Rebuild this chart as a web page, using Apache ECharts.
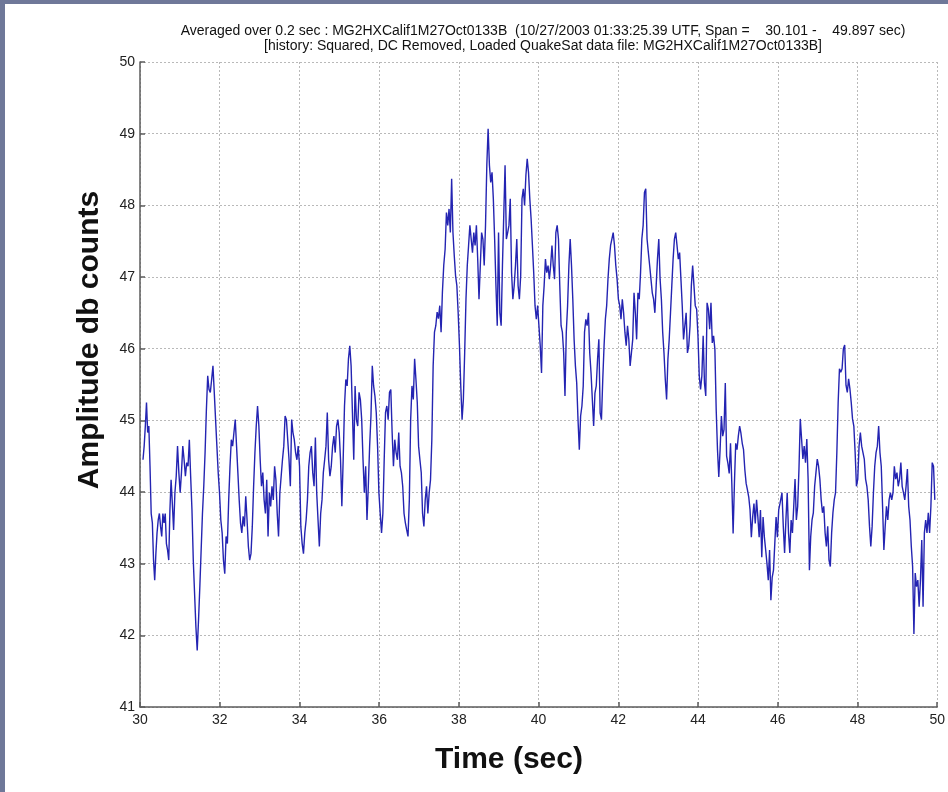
<!DOCTYPE html>
<html>
<head>
<meta charset="utf-8">
<title>QuakeSat amplitude</title>
<script src="https://cdn.jsdelivr.net/npm/echarts@6/dist/echarts.min.js"></script>
<style>
  html, body { margin: 0; padding: 0; width: 948px; height: 792px; background: #6f7899; overflow: hidden; }
  #chart { position: absolute; left: 5px; top: 4px; width: 943px; height: 788px; background: #fff; }
</style>
</head>
<body>
<div id="chart"></div>
<script>
// amplitude (db counts), one array per stretch of time
const segA1 = [44.45, 44.64, 44.92, 45.25, 44.83, 44.92, 44.36, 43.7, 43.57, 43.05, 42.77, 43.14, 43.43, 43.61, 43.7, 43.52, 43.38, 43.7, 43.57, 43.7, 43.28, 43.19, 43.05, 43.75, 44.17]
const segA2 = [43.85, 43.47, 43.99, 44.22, 44.64, 44.27, 43.99, 44.27, 44.64, 44.45, 44.22, 44.41, 44.36, 44.73, 44.22, 43.75, 43.05, 42.58, 42.12, 41.79, 42.21, 42.68, 43.19, 43.7, 44.08, 44.55, 45.15, 45.62, 45.43, 45.39, 45.57, 45.76, 45.39, 45.01, 44.64, 44.27, 43.99, 43.61, 43.43, 43.05, 42.86, 43.38, 43.28, 43.89, 44.36, 44.73, 44.64, 44.83, 45.01, 44.64, 44.27, 43.89, 43.57, 43.43, 43.66, 43.52, 43.94, 43.61, 43.24, 43.05, 43.14, 43.52, 44.08, 44.55, 44.92, 45.2, 44.92, 44.45, 44.08, 44.27, 43.89, 43.7, 44.17, 43.38, 43.99, 43.8, 44.08, 43.89, 44.36, 44.17, 43.7, 43.38, 43.99, 44.22, 44.45, 44.64, 45.06, 45.01, 44.73, 44.45, 44.08, 45.01, 44.83, 44.73, 44.55, 44.45, 44.64, 44.36, 43.52]
const segB = [43.28, 43.14, 43.43, 43.61, 43.89, 44.36, 44.55, 44.64, 44.27, 44.08, 44.76, 43.99, 43.61, 43.24, 43.7, 43.89, 44.27, 44.45, 44.64, 45.11, 44.45, 44.22, 44.36, 44.64, 44.78, 44.55, 44.92, 45.01, 44.83, 44.45, 43.8, 44.45, 45.2, 45.57, 45.48, 45.86, 46.04, 45.76, 45.11, 44.45, 45.48, 45.01, 44.92, 45.39, 45.29, 45.01, 44.45, 43.99, 44.36, 43.61, 44.08, 44.64, 45.06, 45.76, 45.48, 45.34, 45.11, 44.64, 43.99, 43.7, 43.43, 43.7, 44.45, 45.11, 45.2, 45.01, 45.39, 45.43, 44.83, 44.36, 44.73, 44.55, 44.45, 44.83, 44.36, 44.27, 44.08, 43.7, 43.57, 43.47, 43.38, 43.89, 45.01, 45.48, 45.29, 45.86, 45.57, 45.25, 44.64, 44.45, 44.27, 43.7, 43.52, 43.89, 44.08, 43.7, 43.99, 44.17, 44.73, 45.76, 46.23, 46.32, 46.51, 46.42, 46.6, 46.23, 46.79, 47.16]
const segC = [47.39, 47.9, 47.72, 47.95, 47.62, 48.37, 47.62, 47.3, 47.02, 46.88, 46.5, 46.04, 45.48, 45.01, 45.29, 45.94, 46.69, 47.16, 47.44, 47.72, 47.53, 47.34, 47.62, 47.44, 47.72, 47.25, 46.69, 47.16, 47.62, 47.53, 47.16, 47.72, 48.56, 49.07, 48.56, 48.32, 48.46, 48.09, 47.53, 46.88, 46.32, 47.62, 46.5, 46.32, 47.16, 47.86, 48.56, 47.53, 47.62, 47.72, 48.09, 47.06, 46.69, 46.88, 47.16, 47.53, 46.88, 46.69, 47.02, 48.09, 48.23, 48.0, 48.42, 48.65, 48.46, 48.09, 47.81, 47.44, 47.06, 46.6, 46.41, 46.6, 46.32, 46.04, 45.66, 46.6, 46.88, 47.25, 47.06, 47.16, 46.97, 47.16, 47.44, 47.16, 46.97, 47.62, 47.72, 47.53, 46.88, 46.32, 46.23, 45.94, 45.34, 46.23, 46.6, 47.16, 47.53, 47.16, 46.69, 46.13, 45.76, 45.52, 45.01, 44.59, 45.06, 45.2, 45.48, 46.23, 46.41, 46.32, 46.5, 45.94, 45.66, 45.29, 44.92, 45.38, 45.48, 45.85, 46.13, 45.1, 45.01, 45.57, 46.04, 46.41, 46.6, 46.97, 47.25, 47.44, 47.53, 47.62, 47.44, 47.16, 46.97, 46.69, 46.6, 46.41, 46.69, 46.5, 46.23, 46.04, 46.32, 46.13, 45.76, 45.94, 46.13, 46.78, 46.5, 46.13, 46.78, 46.69, 47.06, 47.53, 47.72, 48.18, 48.23, 47.53, 47.34, 47.16, 46.97, 46.78, 46.69, 46.5, 46.88, 47.25, 47.53, 46.97, 46.69, 46.23, 45.94, 45.57, 45.29, 45.85, 46.13, 46.5, 46.88, 47.25, 47.53, 47.62, 47.44, 47.25, 47.34, 46.97, 46.6, 46.13, 46.32, 46.5, 45.94, 46.04, 46.32, 46.88, 47.16, 46.88, 46.6]
const segD = [46.55, 46.18, 45.62, 45.43, 45.62, 46.18, 45.52, 45.34, 46.64, 46.55, 46.27, 46.64, 46.08, 46.18, 45.99, 45.15, 44.59, 44.21, 44.59, 45.06, 44.78, 44.87, 45.52, 44.5, 44.4, 44.26, 44.68, 44.12, 43.42, 44.12, 44.68, 44.59, 44.78, 44.92, 44.82, 44.68, 44.59, 44.31, 44.12, 44.03, 43.93, 43.75, 43.37, 43.65, 43.84, 43.56, 43.89, 43.65, 43.37, 43.75, 43.09, 43.65, 43.37, 43.19, 43.0, 42.77, 43.19, 42.49, 42.81, 42.91, 43.28, 43.65, 43.37, 43.75, 43.84]
const segE = [43.89, 43.99, 43.52, 43.15, 43.61, 43.99, 43.43, 43.15, 43.61, 43.43, 43.8, 44.18, 43.61, 43.8, 44.32, 45.02, 44.74, 44.46, 44.64, 44.41, 44.74, 44.18, 42.91, 43.38, 43.61, 43.71, 44.08, 44.27, 44.46, 44.36, 44.18, 43.89, 43.71, 43.8, 43.43, 43.24, 43.52, 43.05, 42.96, 43.43, 43.71, 43.89, 43.99, 44.55, 45.25, 45.72, 45.67, 45.72, 46.0, 46.05, 45.49, 45.39, 45.58, 45.44, 45.25, 45.02, 44.92, 44.55, 44.08, 44.18, 44.64, 44.83, 44.64, 44.55, 44.46, 44.18, 44.08, 43.89, 43.52, 43.24, 43.52, 43.99, 44.36, 44.55, 44.64, 44.92, 44.55, 44.36, 43.8, 43.19, 43.52, 43.8, 43.61, 43.89, 43.99, 43.89, 43.99, 44.36, 44.18, 44.27, 44.08, 44.18, 44.41, 44.08, 43.99, 43.89, 44.08, 44.32, 43.8, 43.61, 43.24, 42.96, 42.02, 42.87, 42.68, 42.77, 42.4, 42.77, 43.33, 42.4, 43.43, 43.61, 43.43, 43.71, 43.43, 43.8, 44.41, 44.36, 43.89]

// time span (sec) covered by each stretch, samples evenly spaced inside it
const segStart = [30.075, 30.81, 34.068, 37.655, 43.965, 46.073]
const segEnd = [30.78, 34.035, 37.62, 43.93, 46.056, 49.94]

const xTicks = [30, 50, 2]   // min, max, step
const yTicks = [41, 50, 1]

const titleLines = [
  'Averaged over 0.2 sec : MG2HXCalif1M27Oct0133B  (10/27/2003 01:33:25.39 UTF, Span =    30.101 -    49.897 sec)',
  '[history: Squared, DC Removed, Loaded QuakeSat data file: MG2HXCalif1M27Oct0133B]'
]
const xName = 'Time (sec)'
const yName = 'Amplitude db counts'

const FONT = '"Liberation Sans", Arial, sans-serif'

function buildPoints() {
  const segs = [segA1, segA2, segB, segC, segD, segE]
  const pts = []
  segs.forEach((vals, k) => {
    const n = vals.length
    vals.forEach((v, i) => {
      pts.push([segStart[k] + (segEnd[k] - segStart[k]) * i / (n - 1), v])
    })
  })
  return pts
}

const gridLine = { show: true, lineStyle: { color: '#b9b9b9', width: 1, type: [2, 2] } }
const axisLine = { show: true, lineStyle: { color: '#5c5c5c', width: 1.5 } }
const axisTick = { show: true, inside: true, length: 5, lineStyle: { color: '#5c5c5c', width: 1.5 } }
const axisLabel = { color: '#222', fontSize: 14, fontFamily: FONT }

function textEl(text, x, y, font, rotation) {
  return {
    type: 'text',
    x, y,
    rotation: rotation || 0,
    style: {
      text, font, fill: '#111',
      align: 'center', verticalAlign: 'middle',
      textAlign: 'center', textVerticalAlign: 'middle'
    }
  }
}

const chart = echarts.init(document.getElementById('chart'))
chart.setOption({
  animation: false,
  backgroundColor: '#fff',
  grid: { left: 135, right: 4, top: 58, bottom: 85, containLabel: false },
  xAxis: {
    type: 'value',
    min: xTicks[0], max: xTicks[1], interval: xTicks[2],
    axisLine, axisTick, splitLine: gridLine,
    axisLabel: { ...axisLabel, margin: 6 }
  },
  yAxis: {
    type: 'value',
    min: yTicks[0], max: yTicks[1], interval: yTicks[2],
    axisLine, axisTick, splitLine: gridLine,
    axisLabel: { ...axisLabel, margin: 5 }
  },
  graphic: [
    textEl(titleLines[0], 538, 27, '14px ' + FONT),
    textEl(titleLines[1], 538, 42, '14px ' + FONT),
    textEl(xName, 504, 756, 'bold 30px ' + FONT),
    textEl(yName, 85, 336, 'bold 30px ' + FONT, Math.PI / 2)
  ],
  series: [{
    type: 'line',
    data: buildPoints(),
    showSymbol: false,
    sampling: false,
    lineStyle: { color: '#2424b2', width: 1.4 },
    z: 3
  }]
})
</script>
</body>
</html>
